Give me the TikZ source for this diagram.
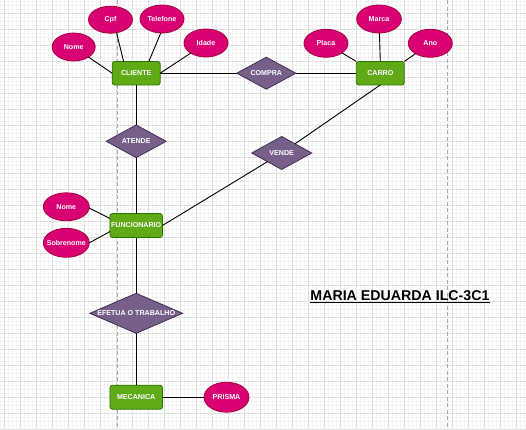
\documentclass[tikz,border=0pt]{standalone}
\usepackage{fontspec}
\setmainfont{Liberation Sans}
\usetikzlibrary{shapes.geometric}
\definecolor{attrfill}{HTML}{D80073}
\definecolor{attrline}{HTML}{A50040}
\definecolor{entfill}{HTML}{60A917}
\definecolor{entline}{HTML}{2D7600}
\definecolor{relfill}{HTML}{76608A}
\definecolor{relline}{HTML}{432D57}
\definecolor{gridmajor}{HTML}{E0E0E0}
\definecolor{gridminor}{HTML}{F4F4F4}
\definecolor{pagebreak}{HTML}{A8A8A8}
\pgfdeclarelayer{background}
\pgfsetlayers{background,main}
\newcommand{\smalltxt}{\fontsize{7.1}{8}\selectfont\bfseries}
\begin{document}
\begin{tikzpicture}[x=1pt,y=-1pt,
  attr/.style={ellipse, draw=attrline, fill=attrfill, text=white, font=\smalltxt,
    inner sep=0pt, outer sep=0pt, minimum width=44, minimum height=28, line width=0.8pt},
  ent/.style={rectangle, rounded corners=2.5pt, draw=entline, fill=entfill, text=white,
    font=\smalltxt, inner sep=0pt, outer sep=0pt, minimum width=48, minimum height=23.5, line width=0.8pt},
  rel/.style={diamond, draw=relline, fill=relfill, inner sep=0pt, outer sep=0pt, line width=0.8pt},
  rlbl/.style={text=white, font=\smalltxt, inner sep=0pt},
  conn/.style={draw=black, line width=0.9pt}
]
\useasboundingbox (0,0) rectangle (526,429);
\begin{pgfonlayer}{background}
  \fill[white] (0,0) rectangle (526,429);
  \foreach \i in {0,...,131} {\draw[gridminor, line width=0.5pt] (0.7+4*\i,0) -- (0.7+4*\i,429);}
  \foreach \i in {0,...,107} {\draw[gridminor, line width=0.5pt] (0,1.3+4*\i) -- (526,1.3+4*\i);}
  \foreach \i in {0,...,32} {\draw[gridmajor, line width=0.8pt] (4.7+16*\i,0) -- (4.7+16*\i,429);}
  \foreach \i in {0,...,26} {\draw[gridmajor, line width=0.8pt] (0,13.3+16*\i) -- (526,13.3+16*\i);}
  \draw[pagebreak, line width=0.8pt, dash pattern=on 4pt off 2.5pt] (117,0) -- (117,429);
  \draw[pagebreak, line width=0.8pt, dash pattern=on 4pt off 2.5pt] (447.3,0) -- (447.3,429);
\end{pgfonlayer}

% entities
\node[ent] (cliente) at (136.2,73.2) {CLIENTE};
\node[ent] (carro) at (380.3,73.2) {CARRO};
\node[ent, minimum width=52.5, minimum height=24] (func) at (136.2,225.5) {FUNCIONARIO};
\node[ent, minimum width=52.5, minimum height=24] (mec) at (136.2,397.2) {MECANICA};

% attributes
\node[attr, minimum width=43] (nome1) at (73.7,47) {Nome};
\node[attr, minimum height=27] (cpf) at (110.5,19.7) {Cpf};
\node[attr] (tel) at (162,19) {Telefone};
\node[attr] (idade) at (206,43) {Idade};
\node[attr] (placa) at (326,43.3) {Placa};
\node[attr, minimum width=44.7] (marca) at (379,19) {Marca};
\node[attr] (ano) at (430.3,43.3) {Ano};
\node[attr, minimum width=46] (nome2) at (66.3,206.8) {Nome};
\node[attr, minimum width=46, minimum height=29, label={[rlbl]center:Sobrenome}] (sob) at (66.3,242.8) {};
\node[attr, minimum width=45, minimum height=30] (prisma) at (226.5,397.2) {PRISMA};

% relationships
\node[rel, minimum width=59, minimum height=32, label={[rlbl]center:COMPRA}] (compra) at (266.3,73.2) {};
\node[rel, minimum width=60, minimum height=32.7, label={[rlbl]center:ATENDE}] (atende) at (136.2,141.3) {};
\node[rel, minimum width=60, minimum height=33, label={[rlbl]center:VENDE}] (vende) at (281.7,153) {};
\node[rel, minimum width=92.7, minimum height=40, label={[rlbl]center:EFETUA O TRABALHO}] (efetua) at (136.2,313.3) {};

% connectors
\draw[conn] (nome1) -- (cliente.west);
\draw[conn] (cpf.-65) -- (cliente.137);
\draw[conn] (tel.-95) -- (cliente.43);
\draw[conn] (idade) -- (cliente.east);
\draw[conn] (cliente.east) -- (compra.west);
\draw[conn] (compra.east) -- (carro.west);
\draw[conn] (placa) -- (carro.north west);
\draw[conn] (marca) -- (carro.north);
\draw[conn] (ano) -- (carro.north east);
\draw[conn] (carro.south) -- (vende);
\draw[conn] (vende) -- (func.east);
\draw[conn] (cliente.south) -- (atende.north);
\draw[conn] (atende.south) -- (func.north);
\draw[conn] (nome2.-3) -- (func.165);
\draw[conn] (sob.east) -- (func.193);
\draw[conn] (func.south) -- (efetua.north);
\draw[conn] (efetua.south) -- (mec.north);
\draw[conn] (mec.east) -- (prisma.west);

% title
\node[anchor=base, inner sep=0pt, font=\fontsize{14.2}{16}\selectfont\bfseries] (title) at (400,300.7) {\underline{MARIA EDUARDA ILC-3C1}};
\end{tikzpicture}
\end{document}
